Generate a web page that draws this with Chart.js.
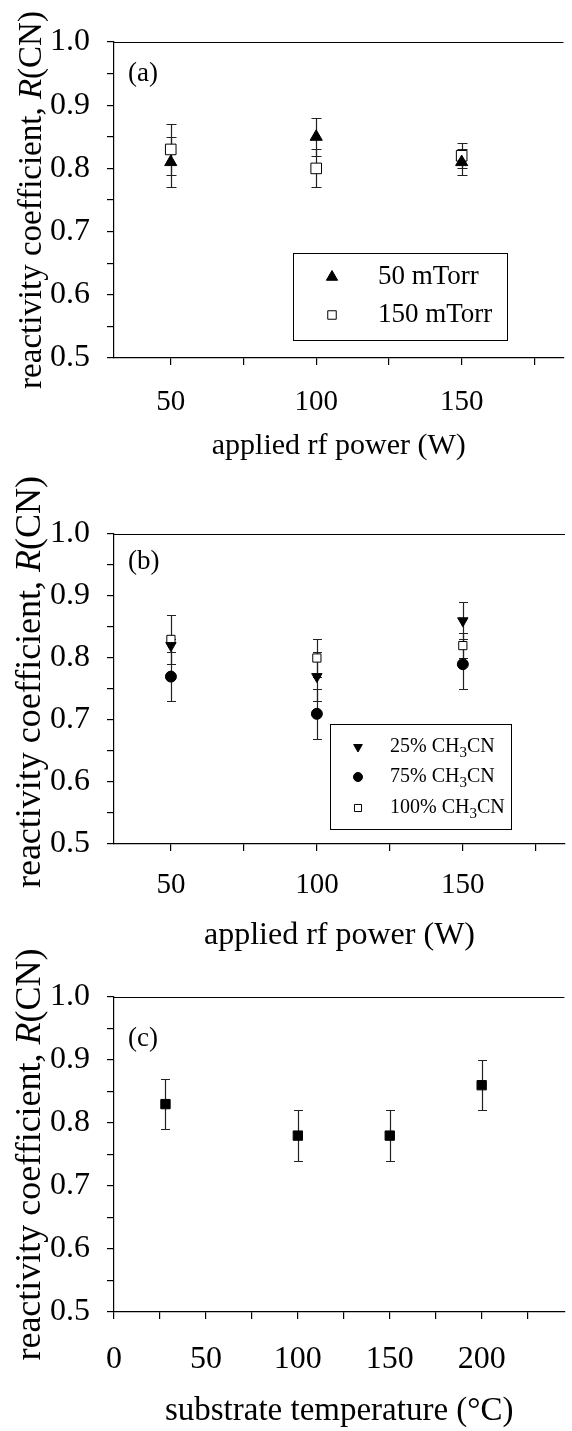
<!DOCTYPE html>
<html>
<head>
<meta charset="utf-8">
<script src="https://cdn.jsdelivr.net/npm/chart.js@4.4.1/dist/chart.umd.min.js"></script>
<style>
  html, body { margin: 0; padding: 0; background: #fff; overflow: hidden; }
  #wrap { position: relative; width: 572px; height: 1431px; }
  canvas { position: absolute; left: 0; }
</style>
</head>
<body>
<div id="wrap">
  <canvas id="chartA" width="572" height="470" style="top:0px"></canvas>
  <canvas id="chartB" width="572" height="490" style="top:470px"></canvas>
  <canvas id="chartC" width="572" height="501" style="top:930px"></canvas>
</div>
<script>
const FONT = "'Liberation Serif', 'Times New Roman', serif";

// ---- panel (a): pressure series vs rf power ----
const powerW = [50, 100, 150];
const r50mTorr = [0.81, 0.85, 0.81];
const e50mTorr = [0.04, 0.03, 0.02];
const r150mTorr = [0.83, 0.80, 0.82];
const e150mTorr = [0.04, 0.03, 0.02];
const labelsA = ["50 mTorr", "150 mTorr"];

// ---- panel (b): CH3CN fraction vs rf power ----
const r25 = [0.82, 0.77, 0.86];
const e25 = [0.01, 0.04, 0.03];
const r75 = [0.77, 0.71, 0.79];
const e75 = [0.04, 0.04, 0.04];
const r100 = [0.83, 0.80, 0.82];
const e100 = [0.04, 0.03, 0.02];
const labelsB = ["25% CH3CN", "75% CH3CN", "100% CH3CN"];

// ---- panel (c): substrate temperature ----
const tempC = [28, 100, 150, 200];
const rTemp = [0.83, 0.78, 0.78, 0.86];
const eTemp = [0.04, 0.04, 0.04, 0.04];

// ---- ticks and titles ----
const yTicks = [0.5, 0.55, 0.6, 0.65, 0.7, 0.75, 0.8, 0.85, 0.9, 0.95, 1.0];
const powerTicks = [50, 75, 100, 125, 150, 175];
const powerLabels = [50, 100, 150];
const tempTicks = [0, 25, 50, 75, 100, 125, 150, 175, 200, 225];
const tempLabels = [0, 50, 100, 150, 200];
const yTitle = ["reactivity coefficient, ", "R", "(CN)"];
const xTitlePower = "applied rf power (W)";
const xTitleTemp = "substrate temperature (\u00B0C)";

Chart.defaults.font.family = FONT;
Chart.defaults.color = "#000";

function pts(xs, ys) {
  return xs.map((x, i) => ({ x: x, y: ys[i] }));
}

function drawMarker(ctx, style, rot, x, y, r, fill) {
  ctx.beginPath();
  if (style === "circle") {
    ctx.arc(x, y, r, 0, Math.PI * 2);
  } else if (style === "rect") {
    const s = Math.SQRT1_2 * r;
    ctx.rect(x - s, y - s, 2 * s, 2 * s);
  } else {
    const sgn = rot === 180 ? -1 : 1;
    let a = 0;
    for (let k = 0; k < 3; k++) {
      const px = x + Math.sin(a) * r, py = y - sgn * Math.cos(a) * r;
      if (k === 0) ctx.moveTo(px, py); else ctx.lineTo(px, py);
      a += (2 * Math.PI) / 3;
    }
    ctx.closePath();
  }
  ctx.fillStyle = fill;
  ctx.fill();
  ctx.strokeStyle = "#000";
  ctx.lineWidth = 1;
  ctx.stroke();
}

// text with the "3" of CH3CN lowered as a subscript
function drawLabel(ctx, text, x, y, size) {
  ctx.textBaseline = "middle";
  ctx.textAlign = "left";
  const m = text.match(/^(.*CH)(3)(CN)$/);
  const parts = m ? [[m[1], 0], [m[2], 1], [m[3], 0]] : [[text, 0]];
  let cx = x;
  parts.forEach(([t, sub]) => {
    ctx.font = (sub ? size * 0.75 : size) + "px " + FONT;
    ctx.fillText(t, cx, sub ? y + size * 0.3 : y);
    cx += ctx.measureText(t).width;
  });
}

// vertical error bars drawn under the markers
const errorBars = {
  id: "errorBars",
  beforeDatasetsDraw(chart) {
    const ctx = chart.ctx, xs = chart.scales.x, ys = chart.scales.y;
    chart.data.datasets.forEach(ds => {
      if (!ds.yErr) return;
      ctx.save();
      ctx.strokeStyle = "#222";
      ctx.lineWidth = 1.2;
      ds.data.forEach((p, i) => {
        const e = ds.yErr[i];
        const x = Math.round(xs.getPixelForValue(p.x)) + 0.5;
        const top = Math.round(ys.getPixelForValue(p.y + e)) + 0.5;
        const bot = Math.round(ys.getPixelForValue(p.y - e)) + 0.5;
        ctx.beginPath();
        ctx.moveTo(x, top); ctx.lineTo(x, bot);
        ctx.moveTo(x - ds.capHalf, top); ctx.lineTo(x + ds.capHalf, top);
        ctx.moveTo(x - ds.capHalf, bot); ctx.lineTo(x + ds.capHalf, bot);
        ctx.stroke();
      });
      ctx.restore();
    });
  }
};

// top frame line, panel letter, y title with italic R, boxed legend
function decor(p) {
  return {
    id: "decor",
    afterDraw(chart) {
      const ctx = chart.ctx, a = chart.chartArea;
      ctx.save();
      ctx.strokeStyle = "#000";
      ctx.lineWidth = 1.2;
      ctx.beginPath();
      ctx.moveTo(a.left, Math.round(a.top) + 0.5);
      ctx.lineTo(a.right, Math.round(a.top) + 0.5);
      ctx.stroke();

      ctx.fillStyle = "#000";
      ctx.font = "27px " + FONT;
      ctx.textBaseline = "middle";
      ctx.textAlign = "left";
      ctx.fillText(p.letter, 128, p.letterY);

      // rotated y title
      const styles = ["", "italic ", ""];
      let total = 0;
      yTitle.forEach((t, i) => {
        ctx.font = styles[i] + p.yTitleSize + "px " + FONT;
        total += ctx.measureText(t).width;
      });
      ctx.save();
      ctx.translate(p.yTitleX, (a.top + a.bottom) / 2 + p.yTitleShift);
      ctx.rotate(-Math.PI / 2);
      ctx.textBaseline = "alphabetic";
      let pos = -total / 2;
      yTitle.forEach((t, i) => {
        ctx.font = styles[i] + p.yTitleSize + "px " + FONT;
        ctx.fillText(t, pos, 0);
        pos += ctx.measureText(t).width;
      });
      ctx.restore();

      if (p.legend) {
        const L = p.legend;
        ctx.lineWidth = 1;
        ctx.strokeRect(L.x + 0.5, L.y + 0.5, L.w, L.h);
        chart.data.datasets.forEach((ds, i) => {
          const y = L.rows[i];
          drawMarker(ctx, ds.pointStyle, ds.rotation, L.markX, y, L.markR[i], ds.backgroundColor);
          ctx.fillStyle = "#000";
          drawLabel(ctx, ds.label, L.textX, y, L.size);
        });
      }
      ctx.restore();
    }
  };
}

function makePanel(id, p) {
  return new Chart(document.getElementById(id), {
    type: "scatter",
    data: { datasets: p.datasets },
    options: {
      responsive: false,
      animation: false,
      events: [],
      layout: { padding: { top: p.top, left: 0, right: 0, bottom: 0 } },
      plugins: { legend: { display: false }, tooltip: { enabled: false } },
      scales: {
        x: {
          type: "linear",
          min: p.xMin,
          max: p.xMax,
          afterBuildTicks: s => { s.ticks = p.xTicks.map(v => ({ value: v })); },
          afterFit: s => { s.height = p.xHeight; },
          ticks: {
            autoSkip: false,
            maxRotation: 0,
            padding: p.xTickPad,
            font: { size: p.xTickSize },
            callback: v => (p.xLabels.includes(v) ? String(v) : "")
          },
          grid: { drawOnChartArea: false, tickLength: 7, color: "#000", lineWidth: 1.2 },
          border: { color: "#000", width: 1.2 },
          title: {
            display: true,
            text: p.xTitle,
            font: { size: p.xTitleSize },
            padding: { top: 0, bottom: p.xTitlePad }
          }
        },
        y: {
          type: "linear",
          min: 0.5,
          max: 1.0,
          afterBuildTicks: s => { s.ticks = yTicks.map(v => ({ value: v })); },
          afterFit: s => { s.width = 114; },
          ticks: {
            autoSkip: false,
            padding: 17,
            font: { size: 32 },
            callback: v => (Math.round(v * 100) % 10 === 0 ? v.toFixed(1) : "")
          },
          grid: { drawOnChartArea: false, tickLength: 7, color: "#000", lineWidth: 1.2 },
          border: { color: "#000", width: 1.2 }
        }
      }
    },
    plugins: [errorBars, decor(p)]
  });
}

makePanel("chartA", {
  top: 42, xHeight: 112, xMin: 30.5, xMax: 185,
  xTicks: powerTicks, xLabels: powerLabels, xTickPad: 20, xTickSize: 29,
  xTitle: xTitlePower, xTitleSize: 30, xTitlePad: 6,
  letter: "(a)", letterY: 74, yTitleX: 41, yTitleSize: 33, yTitleShift: 0,
  legend: { x: 293, y: 253, w: 214, h: 87, markX: 332, textX: 378, size: 27,
            rows: [277, 315], markR: [6.5, 6] },
  datasets: [
    { label: labelsA[0], data: pts(powerW, r50mTorr), yErr: e50mTorr, capHalf: 5,
      pointStyle: "triangle", rotation: 0, pointRadius: 7,
      backgroundColor: "#000", borderColor: "#000", borderWidth: 1 },
    { label: labelsA[1], data: pts(powerW, r150mTorr), yErr: e150mTorr, capHalf: 5,
      pointStyle: "rect", pointRadius: 7.5,
      backgroundColor: "#fff", borderColor: "#000", borderWidth: 1 }
  ]
});

makePanel("chartB", {
  top: 64, xHeight: 116, xMin: 30.5, xMax: 185,
  xTicks: powerTicks, xLabels: powerLabels, xTickPad: 17, xTickSize: 29,
  xTitle: xTitlePower, xTitleSize: 32, xTitlePad: 5,
  letter: "(b)", letterY: 92, yTitleX: 40, yTitleSize: 36, yTitleShift: -7,
  legend: { x: 330, y: 254, w: 181, h: 105, markX: 358, textX: 390, size: 20,
            rows: [277, 307, 338], markR: [5, 4.5, 5] },
  datasets: [
    { label: labelsB[0], data: pts(powerW, r25), yErr: e25, capHalf: 4.5,
      pointStyle: "triangle", rotation: 180, pointRadius: 6,
      backgroundColor: "#000", borderColor: "#000", borderWidth: 1 },
    { label: labelsB[1], data: pts(powerW, r75), yErr: e75, capHalf: 4.5,
      pointStyle: "circle", pointRadius: 5.5,
      backgroundColor: "#000", borderColor: "#000", borderWidth: 1 },
    { label: labelsB[2], data: pts(powerW, r100), yErr: e100, capHalf: 4.5,
      pointStyle: "rect", pointRadius: 5.8,
      backgroundColor: "#fff", borderColor: "#000", borderWidth: 1 }
  ]
});

makePanel("chartC", {
  top: 67, xHeight: 119, xMin: 0, xMax: 245,
  xTicks: tempTicks, xLabels: tempLabels, xTickPad: 21, xTickSize: 32,
  xTitle: xTitleTemp, xTitleSize: 33, xTitlePad: 0,
  letter: "(c)", letterY: 109, yTitleX: 40, yTitleSize: 36, yTitleShift: 0,
  legend: null,
  datasets: [
    { label: "R(CN)", data: pts(tempC, rTemp), yErr: eTemp, capHalf: 4.5,
      pointStyle: "rect", pointRadius: 6.6,
      backgroundColor: "#000", borderColor: "#000", borderWidth: 1 }
  ]
});
</script>
</body>
</html>
